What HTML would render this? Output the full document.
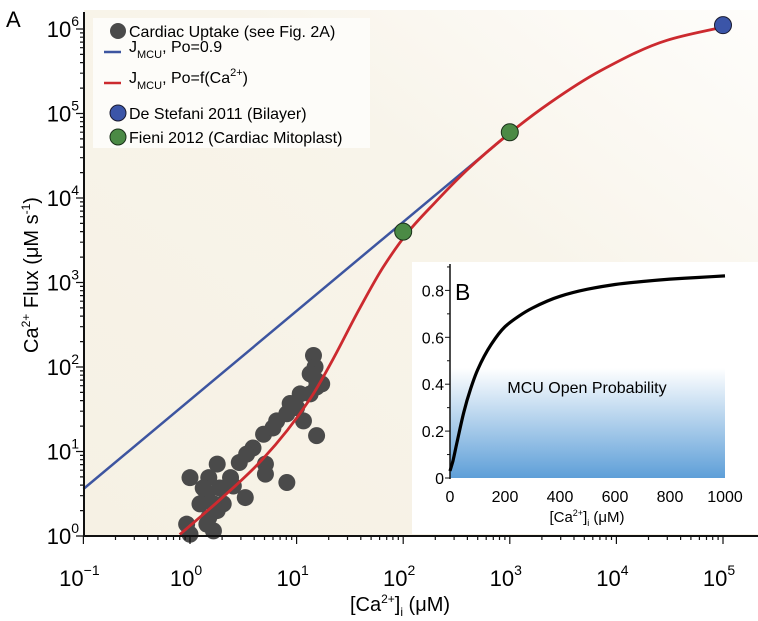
<!DOCTYPE html>
<html><head><meta charset="utf-8"><style>
html,body{margin:0;padding:0;background:#fff;}
svg{display:block;font-family:"Liberation Sans",Arial,sans-serif;}
</style></head><body>
<svg id="chart" width="758" height="621" viewBox="0 0 758 621">
<defs>
<linearGradient id="bgGrad" x1="0" y1="1" x2="1" y2="0">
<stop offset="0" stop-color="#f6f1e4"/><stop offset="0.6" stop-color="#f8f4ea"/><stop offset="1" stop-color="#fefdfb"/>
</linearGradient>
<linearGradient id="blueGrad" x1="0" y1="0" x2="0" y2="1">
<stop offset="0" stop-color="#ffffff"/><stop offset="1" stop-color="#5e9fd8"/>
</linearGradient>
</defs>
<rect x="84" y="10" width="674" height="526" fill="url(#bgGrad)"/>
<rect x="93" y="18" width="277" height="130" fill="#fdfcf9"/>
<rect x="412" y="262" width="346" height="272" fill="#ffffff"/>
<rect x="450" y="368" width="275" height="110" fill="url(#blueGrad)"/>
<g id="main"></g>
<g id="inset"></g>
<path id="xticks" d="" stroke="#111" stroke-width="1.2" fill="none"/>
<path id="yticks" d="" stroke="#111" stroke-width="1.2" fill="none"/>
<path d="M84,536 H758" stroke="#111" stroke-width="2" fill="none"/>
<path d="M84,12 V537" stroke="#111" stroke-width="2" fill="none"/>
<text x="6" y="27" font-size="22">A</text>
<text x="455" y="300" font-size="23">B</text>
<text transform="translate(38,275) rotate(-90)" text-anchor="middle" font-size="20">Ca<tspan font-size="12" dy="-8">2+</tspan><tspan dy="8"> Flux (μM s</tspan><tspan font-size="12" dy="-8">-1</tspan><tspan dy="8">)</tspan></text>
<text x="400" y="611" text-anchor="middle" font-size="20">[Ca<tspan font-size="12" dy="-8">2+</tspan><tspan dy="8">]</tspan><tspan font-size="12" dy="5">i</tspan><tspan dy="-5"> (μM)</tspan></text>
<text x="587" y="393" text-anchor="middle" font-size="16">MCU Open Probability</text>
<text x="587" y="522" text-anchor="middle" font-size="15">[Ca<tspan font-size="9" dy="-6">2+</tspan><tspan dy="6">]</tspan><tspan font-size="9" dy="4">i</tspan><tspan dy="-4"> (μM)</tspan></text>
<g font-size="16">
<circle cx="118" cy="31" r="8" fill="#4a4a4a"/>
<text x="129" y="37">Cardiac Uptake (see Fig. 2A)</text>
<line x1="104" y1="52" x2="121" y2="52" stroke="#3d55a0" stroke-width="2.5"/>
<text x="129" y="52">J<tspan font-size="11" dy="6">MCU</tspan><tspan dy="-6">, Po=0.9</tspan></text>
<line x1="104" y1="83" x2="121" y2="83" stroke="#cc2a2f" stroke-width="2.5"/>
<text x="129" y="83">J<tspan font-size="11" dy="6">MCU</tspan><tspan dy="-6">, Po=f(Ca</tspan><tspan font-size="11" dy="-7">2+</tspan><tspan dy="7">)</tspan></text>
<circle cx="118" cy="113" r="8" fill="#3b55a8" stroke="#1a1a30" stroke-width="1"/>
<text x="129" y="119">De Stefani 2011 (Bilayer)</text>
<circle cx="118" cy="137" r="8" fill="#4b8a45" stroke="#1a301a" stroke-width="1"/>
<text x="129" y="143">Fieni 2012 (Cardiac Mitoplast)</text>
</g>
</svg>
<script>
const scatterC = [14.4,14.9,15.4,13.4,10.8,8.7,8.1,6.5,4.9,3.9,2.9,1.8,1.0,1.5,1.9,2.4,5.1,5.1,3.3,8.1,15.4,11.6,10,15.4,1.44,1.24,1.66,2.05,0.93,1.0,1.66,1.44,1.8,1.5,2.55,6.0,13.4,17.2,3.4,1.33];
const scatterJ = [137,100,69,48,48,37,28,23,16,11,7.4,7.1,4.9,4.9,3.7,4.9,7.1,5.4,2.85,4.3,15.4,23,33,58,3.1,2.4,2.4,2.4,1.38,1.05,1.15,1.38,2.0,1.65,3.9,19,83,63,9.3,3.7];
const blueC = [0.1,1000];
const blueJ = [3.6,59000];
const redC = [0.8,2,4.8,13.4,21.9,39.3,64.7,109,190,396,1000,2380,7020,29800,100000];
const redJ = [1.04,2.83,8.1,41.9,123,502,1507,3846,8318,21380,58750,134000,318000,735000,1057000];
const fieniC = [100,1000];
const fieniJ = [4000,60000];
const stefaniC = [100000];
const stefaniJ = [1110000];
const xDecades = [-1,0,1,2,3,4,5];
const yDecades = [0,1,2,3,4,5,6];
const poC = [0,10,25,50,75,100,150,200,250,300,400,500,600,700,800,900,1000];
const poV = [0.03,0.07,0.15,0.28,0.38,0.46,0.57,0.645,0.69,0.725,0.775,0.805,0.825,0.838,0.848,0.855,0.862];
const inXTicks = [0,200,400,600,800,1000];
const inYTicks = [0,0.2,0.4,0.6,0.8];

const NS='http://www.w3.org/2000/svg';
function X(c){return 190+106.6*Math.log10(c);}
function Y(j){return 536-84.5*Math.log10(j);}
function IX(c){return 450+c*0.275;}
function IY(p){return 478-p*234.5;}
function mk(tag,attrs,parent){const e=document.createElementNS(NS,tag);for(const k in attrs)e.setAttribute(k,String(attrs[k]));parent.appendChild(e);return e;}
function smooth(pts){
  const n=pts.length;if(n<3){return 'M'+pts.map(p=>p[0].toFixed(1)+','+p[1].toFixed(1)).join('L');}
  const dx=[],s=[],m=[];
  for(let i=0;i<n-1;i++){dx[i]=pts[i+1][0]-pts[i][0];s[i]=(pts[i+1][1]-pts[i][1])/dx[i];}
  m[0]=s[0];m[n-1]=s[n-2];
  for(let i=1;i<n-1;i++){if(s[i-1]*s[i]<=0)m[i]=0;else{const w1=2*dx[i]+dx[i-1],w2=dx[i]+2*dx[i-1];m[i]=(w1+w2)/(w1/s[i-1]+w2/s[i]);}}
  let d='M'+pts[0][0].toFixed(1)+','+pts[0][1].toFixed(1);
  for(let i=0;i<n-1;i++){const h=dx[i];
    d+='C'+(pts[i][0]+h/3).toFixed(1)+','+(pts[i][1]+m[i]*h/3).toFixed(1)+' '+(pts[i+1][0]-h/3).toFixed(1)+','+(pts[i+1][1]-m[i+1]*h/3).toFixed(1)+' '+pts[i+1][0].toFixed(1)+','+pts[i+1][1].toFixed(1);}
  return d;}
const main=document.getElementById('main');
let xd='',yd='';
xDecades.forEach(d=>{
  for(let m=1;m<10;m++){if(d===5&&m>1)continue;const px=X(Math.pow(10,d)*m);
    xd+='M'+px.toFixed(1)+',536V'+(536+(m===1?8:4));}
  const tx=mk('text',{x:X(Math.pow(10,d))-4,y:586,'text-anchor':'middle','font-size':22},main);
  
  
  tx.innerHTML='10<tspan font-size="14" dy="-11">'+(d<0?'−'+(-d):d)+'</tspan>';
});
yDecades.forEach(d=>{
  for(let m=1;m<10;m++){if(d===6&&m>1)continue;const py=Y(Math.pow(10,d)*m);
    yd+='M'+(84-(m===1?8:4))+','+py.toFixed(1)+'H84';}
  const tx=mk('text',{x:79,y:Y(Math.pow(10,d))+8,'text-anchor':'end','font-size':22},main);
  
  
  tx.innerHTML='10<tspan font-size="14" dy="-11">'+d+'</tspan>';
});
document.getElementById('xticks').setAttribute('d',xd);
document.getElementById('yticks').setAttribute('d',yd);
scatterC.forEach((c,i)=>{const e=mk('circle',{cx:X(c),cy:Y(scatterJ[i]),r:8.5,fill:'#4a4a4a'},main);
  
  });
let bl=mk('path',{d:smooth(blueC.map((c,i)=>[X(c),Y(blueJ[i])])),stroke:'#3d55a0','stroke-width':2.5,fill:'none'},main);


let rl=mk('path',{d:smooth(redC.map((c,i)=>[X(c),Y(redJ[i])])),stroke:'#cc2a2f','stroke-width':2.8,fill:'none'},main);


fieniC.forEach((c,i)=>{const e=mk('circle',{cx:X(c),cy:Y(fieniJ[i]),r:8.5,fill:'#4b8a45',stroke:'#1a301a','stroke-width':1},main);
  
  });
stefaniC.forEach((c,i)=>{const e=mk('circle',{cx:X(c),cy:Y(stefaniJ[i]),r:8.5,fill:'#3b55a8',stroke:'#1a1a30','stroke-width':1},main);
  
  });
const ins=document.getElementById('inset');
let iay=mk('line',{x1:450,y1:264,x2:450,y2:479,stroke:'#111','stroke-width':1.5},ins);


for(let k=0;k<=9;k++){const py=IY(k*0.1);const t=mk('line',{x1:k%2===0?445:447,y1:py,x2:450,y2:py,stroke:'#111','stroke-width':1},ins);
  
  }
inYTicks.forEach(v=>{const t=mk('text',{x:444,y:IY(v)+6,'text-anchor':'end','font-size':16},ins);
  
  
  t.textContent=v===0?'0':v.toFixed(1);});
inXTicks.forEach(v=>{const t=mk('text',{x:IX(v),y:502,'text-anchor':'middle','font-size':16},ins);
  
  
  t.textContent=v;});
let pl=mk('path',{d:smooth(poC.map((c,i)=>[IX(c),IY(poV[i])])),stroke:'#000','stroke-width':3.2,fill:'none'},ins);


</script>
</body></html>
